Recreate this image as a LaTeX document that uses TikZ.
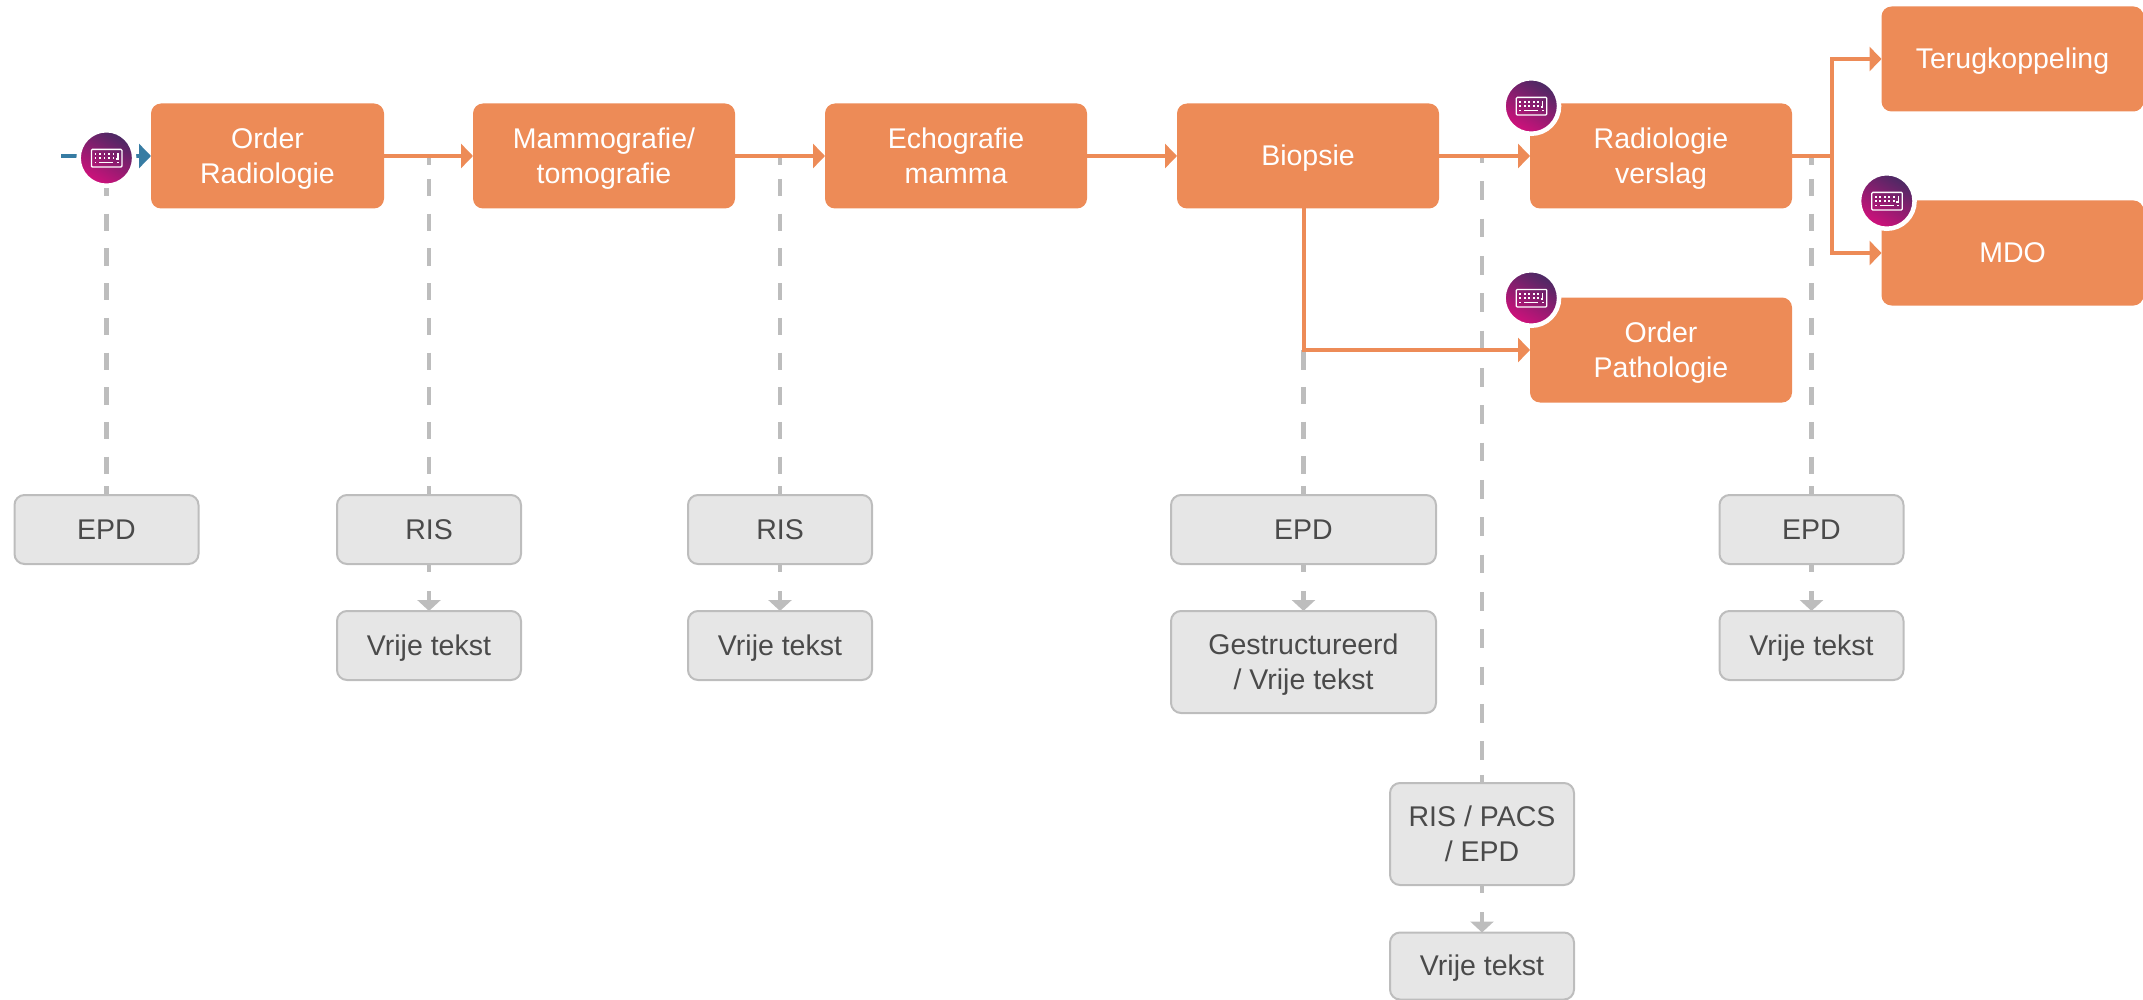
\documentclass[tikz,border=0pt]{standalone}
\usepackage{fontspec}
\setmainfont{Liberation Sans}
\usetikzlibrary{arrows.meta}
\definecolor{oboxc}{HTML}{ED8B57}
\definecolor{gfill}{HTML}{E6E6E6}
\definecolor{gline}{HTML}{BDBDBD}
\definecolor{gtext}{HTML}{4A4A4A}
\definecolor{bluec}{HTML}{377CA3}
\definecolor{icontop}{HTML}{472A63}
\definecolor{iconmid}{HTML}{B31A7A}
\definecolor{iconbot}{HTML}{D3107C}
\newcommand{\linestrut}{\vrule width 0pt height 25.8pt depth 6pt\relax}
\newcommand{\twolines}[2]{\vbox{\halign{\hfil##\hfil\cr\linestrut #1\cr\linestrut #2\cr}}}
\tikzset{
  basebox/.style={rounded corners=10pt,inner sep=0pt,outer sep=0pt,
    font=\fontsize{28.5}{34.5}\selectfont,
    execute at begin node=\linestrut},
  obox/.style={basebox,fill=oboxc,text=white,minimum width=262pt,minimum height=105pt},
  gbox/.style={basebox,fill=gfill,draw=gline,line width=2pt,text=gtext,minimum width=184pt,minimum height=69pt},
  flow/.style={draw=oboxc,line width=4pt,-{Triangle[length=12pt,width=24pt]}},
  entry/.style={draw=bluec,line width=4.5pt,-{Triangle[length=12pt,width=24pt]},dash pattern=on 16pt off 58.5pt on 30pt},
  dropbase/.style={draw=gline,line width=4.5pt},
  dropA/.style={dropbase,dash pattern=on 9.5pt off 13.5pt on 17.3pt off 17.4pt on 17.3pt off 17.4pt on 17.3pt off 17.4pt on 17.3pt off 17.4pt on 17.3pt off 17.4pt on 17.3pt off 17.4pt on 17.3pt off 17.4pt on 17.3pt off 17.4pt on 17.3pt off 12.5pt on 10pt off 10pt},
  dropB/.style={dropbase,dash pattern=on 7.5pt off 17.8pt on 18.7pt off 18.63pt on 18.7pt off 18.63pt on 18.7pt off 18.63pt on 18.7pt off 18.63pt on 18.7pt off 18.63pt on 18.7pt off 18.63pt on 18.7pt off 18.63pt on 18.7pt off 18.63pt on 18.7pt off 18.63pt on 18.7pt off 18.63pt on 18.7pt off 18.63pt on 18.7pt off 18.63pt on 18.7pt off 18.63pt on 18.7pt off 18.63pt on 18.7pt off 18.63pt on 18.7pt off 15pt on 10pt off 10pt},
  dropC/.style={dropbase,dash pattern=on 19.5pt off 17.3pt on 17.3pt off 17.4pt on 17.3pt off 17.4pt on 17.3pt off 12.4pt on 10pt off 10pt},
  dropD/.style={dropbase,dash pattern=on 7.5pt off 19.5pt on 30pt off 10pt,-{Triangle[length=11pt,width=23pt]}},
  iconc/.style={circle,minimum size=55.5pt,inner sep=0pt,outer sep=0pt,draw=white,line width=4.5pt,
    top color=icontop,middle color=iconmid,bottom color=iconbot,shading angle=-30},
  keyb/.pic={
    \draw[white,line width=1.3pt,rounded corners=1pt] (-15,-8.6) rectangle (15.5,9);
    \foreach \kx in {-11,-6.5,-2,2.5,7}{
      \fill[white] (\kx-.9,-5.2) rectangle (\kx+.9,-3.4);
      \fill[white] (\kx-.9,-.9) rectangle (\kx+.9,.9);
    }
    \draw[white,line width=1.3pt] (11.5,-5.2) -- (11.5,.9) -- (9.6,.9);
    \fill[white] (-11.9,3.6) rectangle (-10.1,5.4);
    \fill[white] (-7,3.7) rectangle (7,5.3);
    \fill[white] (10.6,3.6) rectangle (12.4,5.4);
  }
}
\begin{document}
\begin{tikzpicture}[x=1pt,y=-1pt]
\useasboundingbox (0,0) rectangle (2143,1000);
% process boxes
\node[obox,minimum width=233pt] (order) at (267.5,156) {\twolines{Order}{Radiologie}};
\node[obox] (mammo) at (604,156) {\twolines{Mammografie/}{tomografie}};
\node[obox] (echo) at (956,156) {\twolines{Echografie}{mamma}};
\node[obox] (biopsie) at (1308,156) {Biopsie};
\node[obox] (verslag) at (1661,156) {\twolines{Radiologie}{verslag}};
\node[obox] (orderp) at (1661,350) {\twolines{Order}{Pathologie}};
\node[obox] (terug) at (2012.5,59) {Terugkoppeling};
\node[obox] (mdo) at (2012.5,253) {MDO};
% system boxes
\node[gbox] (epdA) at (106.5,529.5) {EPD};
\node[gbox] (risA) at (429,529.5) {RIS};
\node[gbox] (vtA) at (429,645.5) {Vrije tekst};
\node[gbox] (risB) at (780,529.5) {RIS};
\node[gbox] (vtB) at (780,645.5) {Vrije tekst};
\node[gbox,minimum width=265pt] (epdC) at (1303.5,529.5) {EPD};
\node[gbox,minimum width=265pt,minimum height=102pt] (gest) at (1303.5,662) {\twolines{Gestructureerd}{/ Vrije tekst}};
\node[gbox,minimum height=102pt] (pacs) at (1482,834) {\twolines{RIS / PACS}{/ EPD}};
\node[gbox,minimum height=67pt] (vtD) at (1482,966) {Vrije tekst};
\node[gbox] (epdE) at (1811.5,529.5) {EPD};
\node[gbox] (vtE) at (1811.5,645.5) {Vrije tekst};
% named junctions
\coordinate (start) at (61,156);
\coordinate (split) at (1832,156);
% dashed drops
\draw[dropA] (epdA.north |- order.west) -- (epdA.north);
\draw[dropA] (risA.north |- order.west) -- (risA.north);
\draw[dropA] (risB.north |- order.west) -- (risB.north);
\draw[dropA] (epdE.north |- order.west) -- (epdE.north);
\draw[dropB] (pacs.north |- order.west) -- (pacs.north);
\draw[dropC] (epdC.north |- orderp.west) -- (epdC.north);
\draw[dropD] (risA.south) -- (vtA.north);
\draw[dropD] (risB.south) -- (vtB.north);
\draw[dropD] (epdC.south) -- (gest.north);
\draw[dropD] (pacs.south) -- (vtD.north);
\draw[dropD] (epdE.south) -- (vtE.north);
% flow
\draw[entry] (start) -- (order.west);
\draw[flow] (order.east) -- (mammo.west);
\draw[flow] (mammo.east) -- (echo.west);
\draw[flow] (echo.east) -- (biopsie.west);
\draw[flow] (biopsie.east) -- (verslag.west);
\draw[flow] (biopsie.south -| epdC.north) |- (orderp.west);
\draw[flow] (verslag.east) -- (split) |- (terug.west);
\draw[flow] (verslag.east) -- (split) |- (mdo.west);
% icons
\node[iconc] (iconA) at (106.4,158) {};
\node[iconc] (iconB) at (1531.3,106) {};
\node[iconc] (iconC) at (1531.3,298) {};
\node[iconc] (iconD) at (1886.8,201) {};
\pic at (iconA) {keyb};
\pic at (iconB) {keyb};
\pic at (iconC) {keyb};
\pic at (iconD) {keyb};
\end{tikzpicture}
\end{document}
